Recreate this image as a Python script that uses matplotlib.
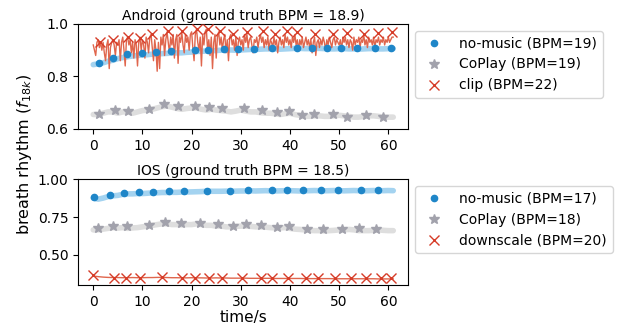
import matplotlib.pyplot as plt
import numpy as np

# ---- data ----
t_sec = np.arange(62)  # 1 s sampling for the smooth curves

# Android
and_nomusic = [0.845, 0.848, 0.852, 0.858, 0.862, 0.868, 0.872, 0.875, 0.878, 0.880,
               0.882, 0.883, 0.885, 0.886, 0.887, 0.888, 0.889, 0.890, 0.890, 0.892,
               0.893, 0.895, 0.896, 0.897, 0.898, 0.899, 0.900, 0.900, 0.901, 0.900,
               0.901, 0.902, 0.903, 0.903, 0.904, 0.905, 0.905, 0.905, 0.904, 0.905,
               0.906, 0.907, 0.907, 0.906, 0.906, 0.907, 0.907, 0.906, 0.905, 0.905,
               0.906, 0.906, 0.905, 0.905, 0.904, 0.905, 0.906, 0.906, 0.905, 0.905,
               0.906, 0.906]
and_nomusic_pk_t = [1.1, 4.1, 6.9, 10.0, 12.7, 15.8, 20.7, 23.4, 26.5, 29.5,
                    32.7, 36.3, 41.5, 44.4, 47.5, 50.3, 53.7, 57.2, 60.6]
and_nomusic_pk = [0.853, 0.871, 0.885, 0.891, 0.895, 0.898, 0.900, 0.902, 0.903, 0.905,
                  0.906, 0.908, 0.909, 0.909, 0.909, 0.910, 0.910, 0.910, 0.910]

and_coplay = [0.655, 0.655, 0.660, 0.665, 0.665, 0.660, 0.665, 0.665, 0.660, 0.665,
              0.670, 0.672, 0.675, 0.680, 0.685, 0.687, 0.683, 0.678, 0.675, 0.678,
              0.680, 0.680, 0.675, 0.672, 0.675, 0.672, 0.670, 0.668, 0.665, 0.668,
              0.672, 0.668, 0.665, 0.665, 0.662, 0.660, 0.660, 0.658, 0.655, 0.658,
              0.660, 0.655, 0.652, 0.648, 0.648, 0.650, 0.650, 0.648, 0.648, 0.650,
              0.652, 0.650, 0.648, 0.645, 0.645, 0.648, 0.650, 0.650, 0.648, 0.645,
              0.645, 0.645]
and_coplay_pk_t = [1.15, 4.4, 7.0, 11.4, 14.4, 17.3, 20.7, 23.6, 26.2, 30.7,
                   34.4, 37.3, 39.8, 42.4, 44.9, 48.8, 51.5, 55.4, 58.9]
and_coplay_pk = [0.658, 0.673, 0.669, 0.675, 0.694, 0.686, 0.688, 0.683, 0.679, 0.678,
                 0.673, 0.664, 0.669, 0.652, 0.657, 0.657, 0.647, 0.653, 0.647]

# clip curve, sampled every 0.25 s (one row = 5 s)
and_clip = [
    0.92, 0.90, 0.88, 0.93, 0.94, 0.91, 0.93, 0.90, 0.93, 0.89, 0.86, 0.92, 0.94, 0.83, 0.91, 0.93, 0.94, 0.92, 0.88, 0.93,
    0.92, 0.94, 0.86, 0.93, 0.95, 0.90, 0.84, 0.94, 0.95, 0.92, 0.94, 0.89, 0.93, 0.87, 0.94, 0.92, 0.84, 0.93, 0.95, 0.90,
    0.94, 0.92, 0.87, 0.95, 0.93, 0.89, 0.95, 0.96, 0.91, 0.86, 0.94, 0.90, 0.82, 0.93, 0.83, 0.95, 0.92, 0.96, 0.88, 0.94,
    0.97, 0.93, 0.89, 0.95, 0.92, 0.96, 0.87, 0.94, 0.96, 0.85, 0.95, 0.93, 0.97, 0.92, 0.89, 0.96, 0.93, 0.95, 0.90, 0.96,
    0.97, 0.91, 0.86, 0.96, 0.98, 0.93, 0.90, 0.95, 0.84, 0.96, 0.92, 0.97, 0.98, 0.90, 0.94, 0.88, 0.95, 0.83, 0.93, 0.96,
    0.87, 0.95, 0.97, 0.92, 0.95, 0.90, 0.94, 0.96, 0.89, 0.94, 0.86, 0.95, 0.96, 0.92, 0.94, 0.90, 0.95, 0.88, 0.93, 0.95,
    0.92, 0.94, 0.90, 0.96, 0.93, 0.96, 0.91, 0.94, 0.95, 0.92, 0.89, 0.94, 0.93, 0.95, 0.91, 0.94, 0.96, 0.93, 0.95, 0.91,
    0.94, 0.92, 0.95, 0.90, 0.94, 0.93, 0.91, 0.95, 0.92, 0.94, 0.89, 0.93, 0.95, 0.92, 0.94, 0.91, 0.96, 0.93, 0.95, 0.92,
    0.94, 0.91, 0.95, 0.93, 0.96, 0.92, 0.94, 0.90, 0.94, 0.92, 0.95, 0.91, 0.93, 0.95, 0.92, 0.94, 0.91, 0.94, 0.89, 0.93,
    0.95, 0.88, 0.93, 0.94, 0.91, 0.94, 0.92, 0.95, 0.93, 0.90, 0.94, 0.92, 0.95, 0.93, 0.91, 0.94, 0.95, 0.92, 0.94, 0.93,
    0.92, 0.94, 0.90, 0.95, 0.93, 0.95, 0.92, 0.94, 0.91, 0.94, 0.93, 0.90, 0.95, 0.92, 0.94, 0.93, 0.95, 0.91, 0.94, 0.93,
    0.96, 0.92, 0.94, 0.91, 0.95, 0.93, 0.94, 0.92, 0.95, 0.91, 0.94, 0.93, 0.95, 0.92, 0.94, 0.93, 0.95, 0.92, 0.94, 0.93,
    0.95, 0.93, 0.94, 0.95, 0.95]
t_clip = np.arange(len(and_clip)) * 0.25
and_clip_pk_t = [1.4, 4.1, 7.1, 9.5, 11.9, 15.3, 18.0, 21.0, 23.4, 25.8, 28.5,
                 31.2, 34.6, 37.0, 39.4, 41.5, 45.1, 48.8, 51.5, 55.0, 57.8, 60.7]
and_clip_pk = [0.931, 0.940, 0.952, 0.946, 0.962, 0.975, 0.972, 0.981, 0.981, 0.972, 0.962,
               0.969, 0.975, 0.962, 0.975, 0.968, 0.962, 0.960, 0.965, 0.962, 0.965, 0.968]

# IOS
ios_nomusic = [0.875, 0.868, 0.875, 0.885, 0.890, 0.893, 0.900, 0.903, 0.903, 0.905,
               0.905, 0.907, 0.910, 0.910, 0.912, 0.912, 0.913, 0.913, 0.915, 0.915,
               0.916, 0.917, 0.918, 0.920, 0.920, 0.920, 0.920, 0.921, 0.920, 0.921,
               0.922, 0.922, 0.923, 0.922, 0.923, 0.924, 0.923, 0.922, 0.923, 0.924,
               0.924, 0.923, 0.922, 0.923, 0.924, 0.925, 0.924, 0.923, 0.924, 0.925,
               0.924, 0.923, 0.924, 0.925, 0.924, 0.923, 0.924, 0.925, 0.924, 0.924,
               0.925, 0.924]
ios_nomusic_pk_t = [0.2, 3.4, 6.2, 9.3, 12.2, 15.5, 18.5, 23.1, 27.9, 31.5,
                    36.3, 39.3, 42.7, 46.4, 49.8, 54.5, 58.0]
ios_nomusic_pk = [0.884, 0.895, 0.908, 0.912, 0.917, 0.919, 0.921, 0.925, 0.925, 0.928,
                  0.928, 0.928, 0.930, 0.930, 0.930, 0.930, 0.930]

ios_coplay = [0.665, 0.665, 0.670, 0.675, 0.680, 0.677, 0.680, 0.675, 0.678, 0.680,
              0.685, 0.690, 0.695, 0.700, 0.705, 0.705, 0.700, 0.700, 0.698, 0.700,
              0.700, 0.705, 0.700, 0.695, 0.695, 0.690, 0.690, 0.685, 0.685, 0.688,
              0.690, 0.690, 0.688, 0.685, 0.685, 0.683, 0.680, 0.678, 0.678, 0.680,
              0.675, 0.670, 0.668, 0.665, 0.662, 0.660, 0.660, 0.658, 0.660, 0.662,
              0.665, 0.665, 0.668, 0.665, 0.660, 0.660, 0.660, 0.662, 0.665, 0.662,
              0.660, 0.660]
ios_coplay_pk_t = [0.9, 4.1, 6.8, 11.3, 14.6, 17.8, 21.7, 25.4, 28.5, 31.0,
                   34.2, 37.3, 39.9, 43.5, 46.8, 50.5, 54.0, 57.5]
ios_coplay_pk = [0.678, 0.689, 0.689, 0.695, 0.717, 0.710, 0.713, 0.702, 0.689, 0.702,
                 0.695, 0.686, 0.689, 0.673, 0.669, 0.672, 0.676, 0.670]

ios_down = [0.360, 0.356, 0.353, 0.351, 0.350, 0.350, 0.349, 0.349, 0.350, 0.349,
            0.349, 0.350, 0.350, 0.351, 0.351, 0.350, 0.349, 0.349, 0.348, 0.348,
            0.349, 0.348, 0.348, 0.347, 0.347, 0.348, 0.347, 0.347, 0.346, 0.346,
            0.346, 0.346, 0.345, 0.345, 0.345, 0.345, 0.345, 0.344, 0.344, 0.344,
            0.344, 0.344, 0.344, 0.343, 0.343, 0.343, 0.343, 0.343, 0.343, 0.342,
            0.342, 0.342, 0.342, 0.342, 0.342, 0.342, 0.342, 0.342, 0.341, 0.341,
            0.341, 0.341]
ios_down_pk_t = [0.0, 4.2, 6.6, 9.5, 13.9, 18.0, 20.6, 23.5, 26.2, 30.2,
                 34.1, 36.4, 39.7, 43.3, 45.6, 49.2, 52.5, 55.5, 58.5, 60.5]
ios_down_pk = [0.364, 0.349, 0.349, 0.349, 0.355, 0.349, 0.349, 0.349, 0.349, 0.349,
               0.345, 0.345, 0.345, 0.345, 0.345, 0.345, 0.344, 0.344, 0.344, 0.344]

BLUE_DOT = '#1f86c8'
BLUE_LINE = '#a4d3f0'
GREY_STAR = '#a2a2ac'
GREY_LINE = '#dedede'
RED_LINE = '#e0664d'
RED_X = '#d63c28'


def draw_panel(ax, title, nm, nm_t, nm_pk, cp, cp_t, cp_pk, red_t, red, red_pk_t, red_pk, labels):
    ax.plot(t_sec, nm, color=BLUE_LINE, linewidth=4, solid_capstyle='round', zorder=1)
    ax.plot(t_sec, cp, color=GREY_LINE, linewidth=4, solid_capstyle='round', zorder=1)
    ax.plot(red_t, red, color=RED_LINE, linewidth=1.0, zorder=2)
    ax.plot(nm_t, nm_pk, linestyle='none', marker='o', markersize=4.5, color=BLUE_DOT,
            label=labels[0], zorder=3)
    ax.plot(cp_t, cp_pk, linestyle='none', marker='*', markersize=7.5, color=GREY_STAR,
            label=labels[1], zorder=3)
    ax.plot(red_pk_t, red_pk, linestyle='none', marker='x', markersize=7, markeredgewidth=1.0,
            color=RED_X, label=labels[2], zorder=3)
    ax.set_title(title, fontsize=10, pad=3)
    ax.legend(loc='upper left', bbox_to_anchor=(1.0, 1.0), fontsize=10)


fig = plt.figure(figsize=(6.25, 3.24), dpi=100)
ax1 = fig.add_axes([0.1248, 0.602, 0.528, 0.324])
ax2 = fig.add_axes([0.1248, 0.120, 0.528, 0.327])

draw_panel(ax1, 'Android (ground truth BPM = 18.9)',
           and_nomusic, and_nomusic_pk_t, and_nomusic_pk,
           and_coplay, and_coplay_pk_t, and_coplay_pk,
           t_clip, and_clip, and_clip_pk_t, and_clip_pk,
           ['no-music (BPM=19)', 'CoPlay (BPM=19)', 'clip (BPM=22)'])
ax1.set_ylim(0.6, 1.0)
ax1.set_yticks([0.6, 0.8, 1.0])

draw_panel(ax2, 'IOS (ground truth BPM = 18.5)',
           ios_nomusic, ios_nomusic_pk_t, ios_nomusic_pk,
           ios_coplay, ios_coplay_pk_t, ios_coplay_pk,
           t_sec, ios_down, ios_down_pk_t, ios_down_pk,
           ['no-music (BPM=17)', 'CoPlay (BPM=18)', 'downscale (BPM=20)'])
ax2.set_ylim(0.30, 1.0)
ax2.set_yticks([0.50, 0.75, 1.00])
ax2.set_xlabel('time/s', fontsize=11, labelpad=1)

for ax in (ax1, ax2):
    ax.set_xlim(-3.1, 64)
    ax.set_xticks([0, 10, 20, 30, 40, 50, 60])

fig.text(0.04, 0.523, r'breath rhythm ($f_{18k}$)', rotation=90, ha='center', va='center', fontsize=11.5)

fig.savefig('out.png', dpi=100)
